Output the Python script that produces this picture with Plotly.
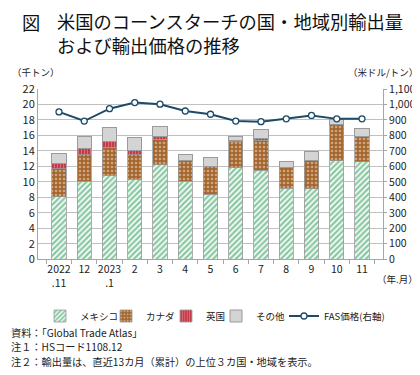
import plotly.graph_objects as go

categories = ["2022<br>.11", "12", "2023<br>.1", "2", "3", "4", "5", "6", "7", "8", "9", "10", "11"]
mexico = [8.1, 10.1, 10.8, 10.35, 12.2, 10.05, 8.4, 11.85, 11.5, 9.15, 9.1, 12.75, 12.6]
canada = [3.6, 3.4, 3.7, 3.15, 3.3, 2.75, 3.6, 3.35, 3.9, 2.65, 3.7, 4.6, 3.3]
uk = [0.7, 0.8, 0.7, 0.6, 0.3, 0.0, 0.0, 0.15, 0.2, 0.0, 0.0, 0.0, 0.0]
others = [1.3, 1.6, 1.8, 1.6, 1.4, 0.8, 1.2, 0.55, 1.2, 0.8, 1.1, 0.75, 0.95]
fas_price = [952, 893, 973, 1012, 1002, 958, 937, 893, 889, 907, 929, 907, 907]

FONT = "Noto Sans CJK JP"
W, H = 420, 375
L, R, T, B = 30, 40, 81, 119
ph = H - T - B
pw = W - L - R


def py(y):
    return (H - B - y) / ph


def px(x):
    return (x - L) / pw


fig = go.Figure()
fig.add_trace(go.Bar(
    x=categories, y=mexico, name="メキシコ", legend="legend",
    marker=dict(color="white", line=dict(color="#9a9a9a", width=0.8),
                pattern=dict(shape="/", fgcolor="#17924a", bgcolor="white", size=4, solidity=0.6)),
))
fig.add_trace(go.Bar(
    x=categories, y=canada, name="カナダ", legend="legend2",
    marker=dict(color="#a4652c", line=dict(color="#9a9a9a", width=0.8),
                pattern=dict(shape=".", fgcolor="#f2e6d8", bgcolor="#a4652c", size=4, solidity=0.35)),
))
fig.add_trace(go.Bar(
    x=categories, y=uk, name="英国", legend="legend3",
    marker=dict(color="#c43c4c", line=dict(color="#9a9a9a", width=0.8),
                pattern=dict(shape="|", fgcolor="#f0a8b0", bgcolor="#c43c4c", size=3, solidity=0.3)),
))
fig.add_trace(go.Bar(
    x=categories, y=others, name="その他", legend="legend4",
    marker=dict(color="#d4d4d4", line=dict(color="#9a9a9a", width=1)),
))
fig.add_trace(go.Scatter(
    x=categories, y=fas_price, name="FAS価格(右軸)", yaxis="y2", legend="legend5",
    mode="lines+markers",
    line=dict(color="#1c4a68", width=2),
    marker=dict(symbol="circle", size=6, color="white", line=dict(color="#1c4a68", width=1.3)),
))

leg_text_x = [79, 145, 205, 255, 323]
legs = {}
for i, tx in enumerate(leg_text_x):
    key = "legend" if i == 0 else f"legend{i + 1}"
    legs[key] = dict(orientation="h", xref="container", yref="container",
                     x=(tx - 47) / W, xanchor="left", y=1 - 308 / H, yanchor="middle",
                     font=dict(size=9.5, family=FONT), itemwidth=30,
                     bgcolor="rgba(0,0,0,0)", borderwidth=0)

fig.update_layout(
    width=W, height=H,
    margin=dict(l=L, r=R, t=T, b=B),
    barmode="stack", bargap=0.44,
    plot_bgcolor="white", paper_bgcolor="white",
    font=dict(family=FONT, size=11, color="#222222"),
    showlegend=True,
    xaxis=dict(showgrid=False, showline=True, linecolor="#a6a6a6", ticks="outside",
               tickcolor="#a6a6a6", ticklen=4, tickangle=0, tickfont=dict(size=10.5, family=FONT),
               tickson="boundaries", fixedrange=True),
    yaxis=dict(range=[0, 22], dtick=2, showgrid=True, gridcolor="#c0c0c0", gridwidth=1,
               showline=True, linecolor="#a6a6a6", ticks="", tickfont=dict(size=11, family=FONT),
               zeroline=False),
    yaxis2=dict(range=[0, 1100], dtick=100, overlaying="y", side="right", showgrid=False,
                showline=True, linecolor="#a6a6a6", ticks="outside", tickcolor="#a6a6a6", ticklen=3,
                tickformat=",", tickfont=dict(size=10.5, family=FONT), zeroline=False),
    **legs,
)

ann = []
ann.append(dict(text="図", x=px(12), y=py(12), xanchor="left", yanchor="middle",
                font=dict(size=18.3, family=FONT, color="#111111")))
ann.append(dict(text="米国のコーンスターチの国・地域別輸出量<br>および輸出価格の推移",
                x=px(47), y=py(23.5), xanchor="left", yanchor="middle", align="left",
                font=dict(size=18.3, family=FONT, color="#111111")))
ann.append(dict(text="（千トン）", x=px(2), y=py(64), xanchor="left", yanchor="middle",
                font=dict(size=9.5, family=FONT)))
ann.append(dict(text="（米ドル/トン）", x=px(418), y=py(64), xanchor="right", yanchor="middle",
                font=dict(size=9.5, family=FONT)))
ann.append(dict(text="（年.月）", x=px(418), y=py(276), xanchor="right", yanchor="middle",
                font=dict(size=9.5, family=FONT)))
notes = ["資料：「Global Trade Atlas」", "注１：HSコード1108.12",
         "注２：輸出量は、直近13カ月（累計）の上位３カ国・地域を表示。"]
for i, n in enumerate(notes):
    ann.append(dict(text=n, x=px(1), y=py(331 + i * 15), xanchor="left", yanchor="middle",
                    align="left", font=dict(size=10.2, family=FONT)))
for a in ann:
    a.update(xref="paper", yref="paper", showarrow=False)
fig.update_layout(annotations=ann)

fig.write_html("out.html")
